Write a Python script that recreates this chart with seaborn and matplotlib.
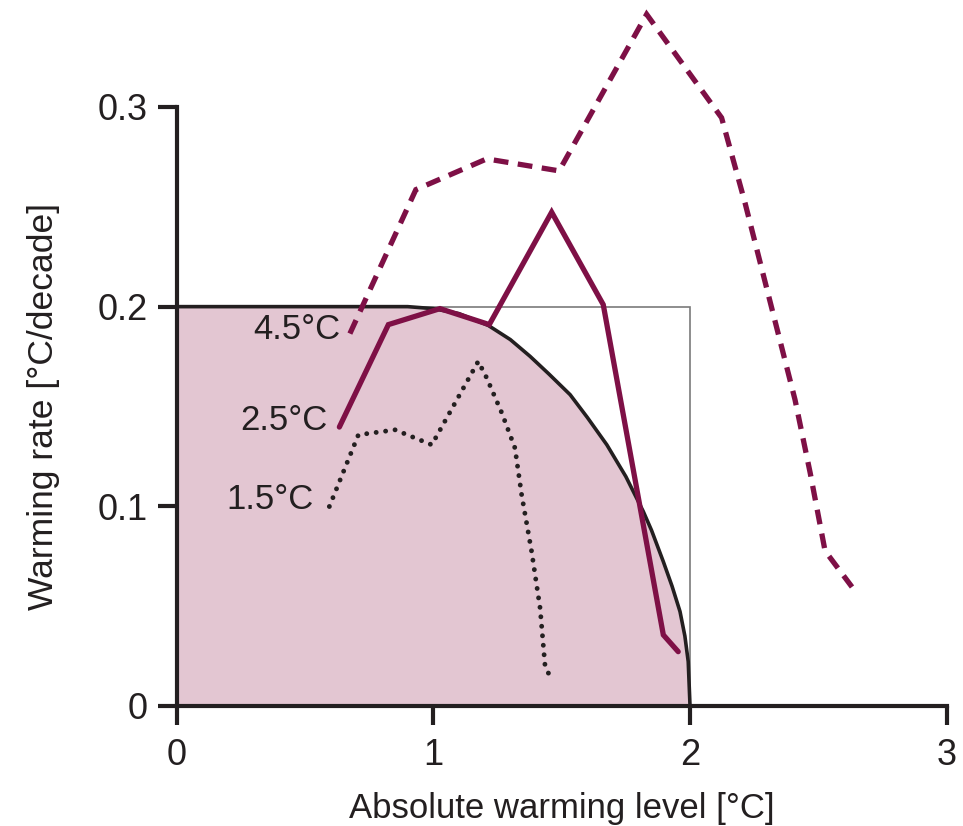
import matplotlib
matplotlib.use("Agg")
import matplotlib.pyplot as plt
import seaborn as sns
import pandas as pd

# ---- data ----
env_x = [0.0, 0.9, 1.0, 1.1, 1.214, 1.3, 1.377, 1.45, 1.533, 1.6, 1.676, 1.75, 1.818,
         1.85, 1.896, 1.93, 1.961, 1.98, 1.993, 2.0]
env_y = [0.2, 0.2, 0.199, 0.1965, 0.1906, 0.1835, 0.1751, 0.1663, 0.1559, 0.1445, 0.1308,
         0.1149, 0.0974, 0.0880, 0.0723, 0.0600, 0.0473, 0.0350, 0.0222, 0.0]

box_x = [0.0, 2.0, 2.0]
box_y = [0.2, 0.2, 0.0]

x45 = [0.675, 0.932, 1.208, 1.490, 1.831, 2.123, 2.214, 2.338, 2.409, 2.468, 2.526, 2.631]
y45 = [0.1865, 0.2586, 0.274, 0.268, 0.3464, 0.2946, 0.2521, 0.1893, 0.1534, 0.1168, 0.0777, 0.0596]

x25 = [0.634, 0.825, 1.026, 1.218, 1.461, 1.662, 1.896, 1.954]
y25 = [0.1397, 0.191, 0.199, 0.191, 0.2473, 0.201, 0.0356, 0.0272]

x15 = [0.595, 0.708, 0.851, 0.994, 1.175, 1.208, 1.267, 1.318, 1.344, 1.383, 1.416, 1.435, 1.461]
y15 = [0.0999, 0.1358, 0.1383, 0.1308, 0.1726, 0.1643, 0.1467, 0.1292, 0.1058, 0.0773, 0.0490, 0.0206, 0.0125]

labels = ["4.5°C", "2.5°C", "1.5°C"]
label_x = [0.636, 0.586, 0.535]
label_y = [0.1885, 0.1429, 0.1033]

xticks = [0, 1, 2, 3]
xticklabels = ["0", "1", "2", "3"]
yticks = [0, 0.1, 0.2, 0.3]
yticklabels = ["0", "0.1", "0.2", "0.3"]

# ---- style ----
sns.set_theme(style="ticks")
plt.rcParams["font.family"] = ["Liberation Sans", "DejaVu Sans"]

MAROON = "#7E1046"
FILL = "#E3C6D2"
DARK = "#231F20"

fig = plt.figure(figsize=(9.63, 8.26), dpi=100)
ax = fig.add_axes([0.1834, 0.1453, 0.7997, 0.7252])

env = pd.DataFrame({"x": env_x, "y": env_y})
ax.fill_between(env["x"], env["y"], 0, color=FILL, lw=0, zorder=1)
ax.plot(box_x, box_y, color="#7a7a7a", linewidth=1.2, zorder=2, solid_joinstyle="miter")
sns.lineplot(data=env, x="x", y="y", ax=ax, color=DARK, linewidth=2.6, zorder=3,
             estimator=None, sort=False)

d15 = pd.DataFrame({"x": x15, "y": y15})
sns.lineplot(data=d15, x="x", y="y", ax=ax, color=DARK, linewidth=3.5, zorder=4,
             estimator=None, sort=False, linestyle=(0, (0.01, 1.95)),
             dash_capstyle="round", clip_on=False)

d25 = pd.DataFrame({"x": x25, "y": y25})
sns.lineplot(data=d25, x="x", y="y", ax=ax, color=MAROON, linewidth=3.8, zorder=5,
             estimator=None, sort=False, clip_on=False, solid_joinstyle="miter")

d45 = pd.DataFrame({"x": x45, "y": y45})
sns.lineplot(data=d45, x="x", y="y", ax=ax, color=MAROON, linewidth=3.8, zorder=6,
             estimator=None, sort=False, linestyle=(0, (2.8, 1.8)), clip_on=False,
             dash_joinstyle="miter")

for t, lx, ly in zip(labels, label_x, label_y):
    ax.text(lx, ly, t, ha="right", va="center", fontsize=25, color=DARK, zorder=7)

ax.set_xlim(0, 3)
ax.set_ylim(0, 0.3)
ax.set_xticks(xticks)
ax.set_xticklabels(xticklabels)
ax.set_yticks(yticks)
ax.set_yticklabels(yticklabels)
ax.set_xlabel("Absolute warming level [°C]", fontsize=25, color=DARK, labelpad=14)
ax.set_ylabel("Warming rate [°C/decade]", fontsize=25.5, color=DARK, labelpad=27)

for s in ["top", "right"]:
    ax.spines[s].set_visible(False)
for s in ["left", "bottom"]:
    ax.spines[s].set_linewidth(3)
    ax.spines[s].set_color(DARK)
    ax.spines[s].set_zorder(8)
ax.tick_params(axis="both", direction="out", length=14, width=3, color=DARK,
               labelsize=26, labelcolor=DARK)
ax.tick_params(axis="x", pad=9)
ax.tick_params(axis="y", pad=7)
ax.set_facecolor("white")

fig.savefig("out.png", dpi=100)
